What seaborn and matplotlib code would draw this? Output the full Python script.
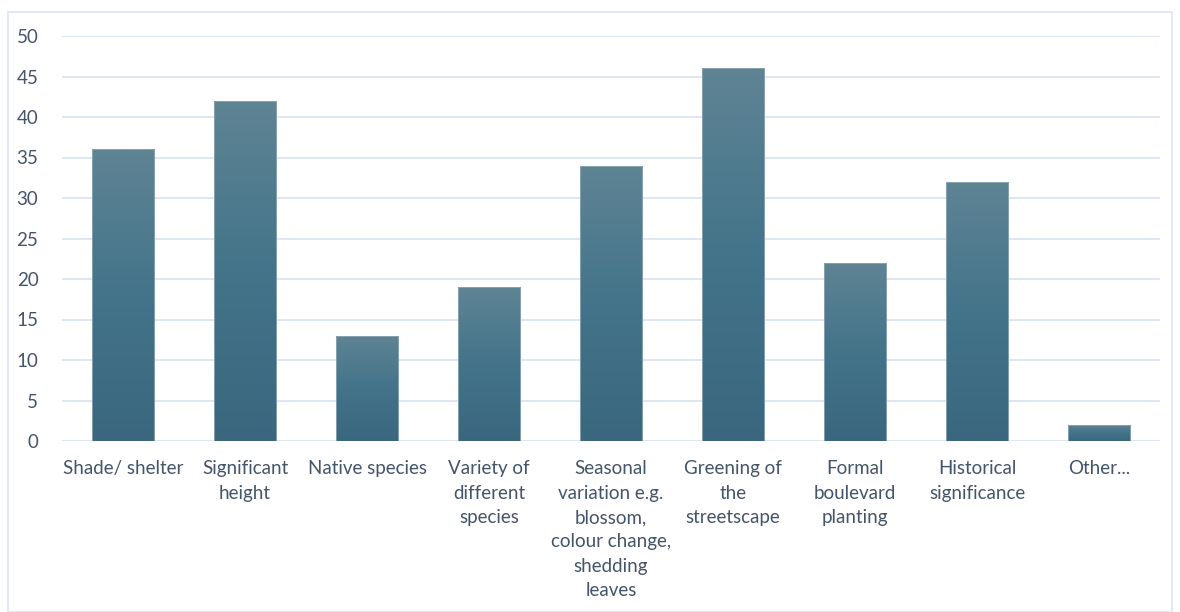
import pandas as pd
import seaborn as sns
import matplotlib.pyplot as plt
import numpy as np
from matplotlib.colors import LinearSegmentedColormap
from matplotlib.patches import Rectangle

# Data
categories = ['Shade/ shelter', 'Significant\nheight', 'Native species',
              'Variety of\ndifferent\nspecies',
              'Seasonal\nvariation e.g.\nblossom,\ncolour change,\nshedding\nleaves',
              'Greening of\nthe\nstreetscape', 'Formal\nboulevard\nplanting',
              'Historical\nsignificance', 'Other...']
counts = [36, 42, 13, 19, 34, 46, 22, 32, 2]

df = pd.DataFrame({'category': categories, 'count': counts})

sns.set_style('white')
plt.rcParams['font.family'] = ['Lato', 'DejaVu Sans']
text_col = '#44546a'

fig = plt.figure(figsize=(11.8, 6.12), dpi=100)
ax = fig.add_axes([62 / 1180, 1 - 441 / 612, 1098 / 1180, 405 / 612])

sns.barplot(data=df, x='category', y='count', color='#4a7388', width=0.51,
            ax=ax, zorder=3)

# gradient fill: lighter on top, darker at the bottom
cmap = LinearSegmentedColormap.from_list('bar', ['#3a677e', '#43748a', '#5f8494'])
grad = np.linspace(0, 1, 256).reshape(-1, 1)
for p in ax.patches:
    x0, y0 = p.get_x(), p.get_y()
    w, h = p.get_width(), p.get_height()
    im = ax.imshow(grad, cmap=cmap, origin='lower', aspect='auto',
                   extent=(x0, x0 + w, y0, y0 + h), zorder=3)
    im.set_clip_path(p)
    p.set_facecolor('none')
    p.set_edgecolor('#8fa9b7')
    p.set_linewidth(0.6)
    p.set_zorder(4)

ax.set_xlim(-0.5, len(categories) - 0.5)
ax.set_ylim(0, 50)
ax.set_yticks(range(0, 51, 5))
ax.yaxis.grid(True, color='#dae4f1', linewidth=1.3, zorder=0)
ax.set_axisbelow(True)
for s in ax.spines.values():
    s.set_visible(False)
ax.set_xlabel('')
ax.set_ylabel('')
ax.tick_params(axis='both', length=0, colors=text_col, labelsize=13.5)
ax.tick_params(axis='y', pad=17)
ax.tick_params(axis='x', pad=14)
for t in ax.get_xticklabels():
    t.set_linespacing(1.52)
    t.set_verticalalignment('top')

# outer frame
fig.patches.append(Rectangle((8 / 1180, 0), 1164 / 1180, 1 - 12 / 612,
                             transform=fig.transFigure, fill=False,
                             edgecolor='#dce6f2', linewidth=1.2))

fig.savefig('out.png', dpi=100)
